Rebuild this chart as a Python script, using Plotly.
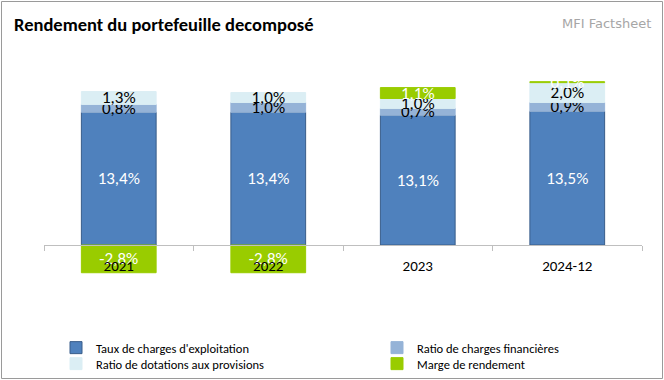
import plotly.graph_objects as go

categories = ["2021", "2022", "2023", "2024-12"]
taux_exploitation = [13.4, 13.4, 13.1, 13.5]
ratio_financieres = [0.8, 1.0, 0.7, 0.9]
ratio_provisions = [1.3, 1.0, 1.0, 2.0]
marge_rendement = [-2.8, -2.8, 1.1, 0.1]

series = [
    ("Taux de charges d'exploitation", taux_exploitation, "#4F81BD", "#385D8A", "white"),
    ("Ratio de charges financières", ratio_financieres, "#95B3D7", "#95B3D7", "black"),
    ("Ratio de dotations aux provisions", ratio_provisions, "#DBEEF4", "#DBEEF4", "black"),
    ("Marge de rendement", marge_rendement, "#99CC00", "#99CC00", "white"),
]

def fmt(v):
    return f"{v:.1f}%".replace(".", ",")

FONT = "Carlito, 'Liberation Sans Narrow', Lato"
LABEL_SIZE = 17
W, H = 664, 380
L, R = 44, 642
top, bottom = 60, 290
zero_px = 245
scale = 9.9
ymax = (zero_px - top) / scale
ymin = -(bottom - zero_px) / scale
pos = (0 - ymin) / (ymax - ymin)

# legend grid (item left edge px, row centre px)
legend_slots = [(56, 348), (377, 348), (56, 364), (377, 364)]

fig = go.Figure()
legends = {}
for i, (name, vals, color, line, tcol) in enumerate(series):
    key = "legend" if i == 0 else f"legend{i + 1}"
    fig.add_trace(go.Bar(
        x=categories, y=vals, name=name, legend=key, showlegend=True,
        marker=dict(color=color, line=dict(color=line, width=1)),
        text=[fmt(v) for v in vals], textposition="inside",
        insidetextanchor="middle", textangle=0,
        textfont=dict(color=tcol, size=LABEL_SIZE, family=FONT),
        constraintext="none", cliponaxis=False,
    ))
    lx, ly = legend_slots[i]
    legends[key] = dict(orientation="h", xref="container", yref="container",
                        x=lx / W, y=1 - ly / H, xanchor="left", yanchor="middle",
                        font=dict(size=12.5, family=FONT), itemclick=False,
                        bgcolor="rgba(0,0,0,0)", visible=True)

def px_x(px):
    return (px - L) / (R - L)

def px_y(py):
    return (bottom - py) / (bottom - top)

fig.update_layout(
    width=W, height=H, showlegend=True,
    barmode="relative", bargap=0.5,
    paper_bgcolor="white", plot_bgcolor="white",
    margin=dict(l=L, r=W - R, t=top, b=H - bottom, autoexpand=False),
    font=dict(family=FONT, color="black"),
    uniformtext=dict(minsize=LABEL_SIZE, mode="show"),
    title=dict(text="<b>Rendement du portefeuille decomposé</b>",
               xref="container", yref="container", x=14 / W, y=1 - 25 / H,
               xanchor="left", yanchor="middle",
               font=dict(size=18.5, family=FONT, color="black")),
    xaxis=dict(anchor="free", position=pos, showline=True, linecolor="#BFBFBF",
               linewidth=1, ticks="outside", tickson="boundaries", ticklen=5,
               tickcolor="#BFBFBF", showgrid=False, ticklabelstandoff=7,
               tickfont=dict(size=15, family=FONT, color="black")),
    yaxis=dict(range=[ymin, ymax], visible=False, showgrid=False, zeroline=False),
    shapes=[dict(type="rect", xref="paper", yref="paper",
                 x0=px_x(1.5), x1=px_x(662.5), y0=px_y(378.5), y1=px_y(1.5),
                 line=dict(color="#9A9A9A", width=1), fillcolor="rgba(0,0,0,0)")],
    annotations=[dict(text="MFI Factsheet", xref="paper", yref="paper",
                      x=px_x(653), y=px_y(23), xanchor="right", yanchor="middle",
                      showarrow=False, font=dict(size=13, family="DejaVu Sans", color="#A6A6A6"))],
    **legends,
)

fig.write_html("out.html", config={"displayModeBar": False},
               post_script="document.body.style.margin='0';")
